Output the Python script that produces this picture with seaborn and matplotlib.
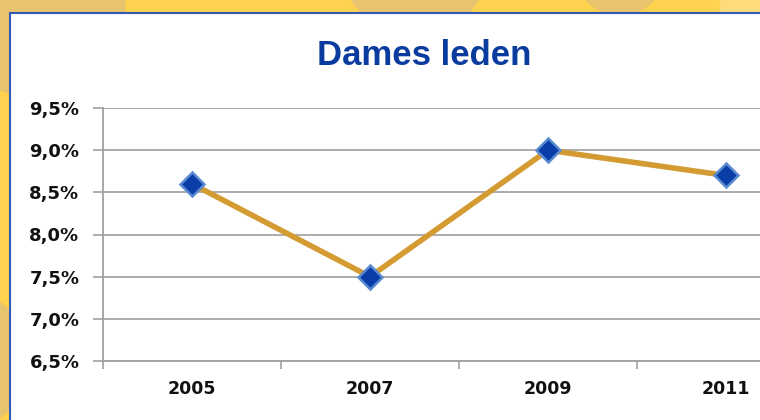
import matplotlib
matplotlib.use("Agg")
import matplotlib.pyplot as plt
import matplotlib.patches as mpatches
from matplotlib.ticker import FuncFormatter, FixedLocator
import seaborn as sns
import pandas as pd

years = ["2005", "2007", "2009", "2011"]
share = [0.086, 0.075, 0.090, 0.087]
y_ticks = [0.065, 0.070, 0.075, 0.080, 0.085, 0.090, 0.095]
title = "Dames leden"

df = pd.DataFrame({"jaar": years, "aandeel": share})

sns.set_theme(style="white")
plt.rcParams["font.family"] = ["DejaVu Sans"]

W, H = 760, 420
fig = plt.figure(figsize=(7.6, 4.2), dpi=100, facecolor="#FFD24F")

# decorative background shapes
for (cx, cy, r) in [(30, 0, 95), (415, -40, 75), (620, -30, 45), (-40, 360, 70)]:
    fig.patches.append(mpatches.Ellipse((cx / W, 1 - cy / H), 2 * r / W, 2 * r / H,
                                        transform=fig.transFigure, color="#E8C46E",
                                        zorder=0))
fig.patches.append(mpatches.Rectangle((720 / W, 1 - 14 / H), 40 / W, 14 / H,
                                      transform=fig.transFigure, color="#FFDC7A", zorder=0))
# white chart area with blue border
fig.patches.append(mpatches.Rectangle((10 / W, -0.05), 1.2, 1 - 13 / H + 0.05,
                                      transform=fig.transFigure, facecolor="white",
                                      edgecolor="#2F5BB7", linewidth=1.5, zorder=1))

left, right = 103, 815
top, bottom = 108, 361
ax = fig.add_axes([left / W, 1 - bottom / H, (right - left) / W, (bottom - top) / H])
ax.set_facecolor("none")
ax.set_zorder(2)

sns.lineplot(data=df, x="jaar", y="aandeel", ax=ax, color="#D39B32", linewidth=4.0,
             marker="D", markersize=12.5, markerfacecolor="#0A3DA8",
             markeredgecolor="#5A8AD0", markeredgewidth=1.8, zorder=3)

ax.set_xlim(-0.5, 3.5)
ax.set_ylim(0.065, 0.095)
ax.yaxis.set_major_locator(FixedLocator(y_ticks))
ax.yaxis.set_major_formatter(FuncFormatter(lambda v, p: f"{v*100:.1f}%".replace(".", ",")))
ax.grid(axis="y", color="#A6A6A6", linewidth=1.3)
ax.set_axisbelow(True)

for s in ["top", "right"]:
    ax.spines[s].set_visible(False)
for s in ["left", "bottom"]:
    ax.spines[s].set_color("#A0A0A0")
    ax.spines[s].set_linewidth(1.3)

ax.set_xlabel("")
ax.set_ylabel("")
ax.set_xticks(range(len(years)))
ax.set_xticklabels(years)
ax.set_xticks([-0.5, 0.5, 1.5, 2.5, 3.5], minor=True)
ax.tick_params(axis="x", which="major", length=0, pad=14, labelsize=12.5)
ax.tick_params(axis="x", which="minor", length=6, width=1.2, color="#A0A0A0", bottom=True)
ax.tick_params(axis="y", length=7, width=1.2, color="#A0A0A0", pad=10, labelsize=13, left=True)
for lbl in ax.get_xticklabels() + ax.get_yticklabels():
    lbl.set_fontweight("bold")
    lbl.set_color("#111111")

fig.text(424.5 / W, 1 - 65 / H, title, ha="center", va="baseline",
         fontsize=25, fontweight="bold", color="#0A3CA0",
         family=["Liberation Sans", "DejaVu Sans"], zorder=5)

fig.savefig("out.png", dpi=100, facecolor=fig.get_facecolor())
